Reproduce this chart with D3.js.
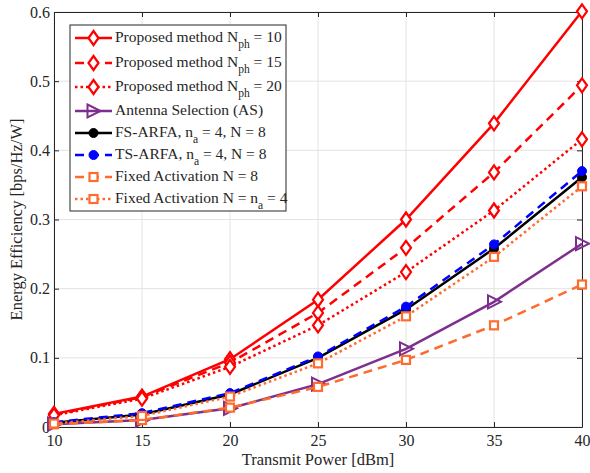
<!DOCTYPE html>
<html>
<head>
<meta charset="utf-8">
<script src="https://cdn.jsdelivr.net/npm/d3@7"></script>
<style>
  body { margin: 0; background: #fff; }
  svg text { font-family: "Liberation Serif", "Times New Roman", "DejaVu Serif", serif !important; fill: #262626; }
</style>
</head>
<body>
<div id="chart"></div>
<script>
// data
const powers = [10, 15, 20, 25, 30, 35, 40];
const propNph10 = [0.019, 0.044, 0.098, 0.184, 0.300, 0.439, 0.601];
const propNph15 = [0.018, 0.043, 0.093, 0.165, 0.259, 0.368, 0.494];
const propNph20 = [0.017, 0.041, 0.087, 0.147, 0.224, 0.313, 0.416];
const antSel    = [0.004, 0.010, 0.027, 0.062, 0.113, 0.181, 0.265];
const fsArfa    = [0.006, 0.018, 0.047, 0.100, 0.170, 0.258, 0.361];
const tsArfa    = [0.007, 0.020, 0.049, 0.102, 0.174, 0.264, 0.370];
const fixedN8   = [0.004, 0.010, 0.028, 0.058, 0.097, 0.147, 0.206];
const fixedN4   = [0.005, 0.016, 0.044, 0.092, 0.160, 0.246, 0.348];
const xTicks = [10, 15, 20, 25, 30, 35, 40];
const yTicks = [0, 0.1, 0.2, 0.3, 0.4, 0.5, 0.6];

const orange = "#ff6b2e";
const series = [
  { vals: propNph10, color: "#ff0000", dash: null, marker: "diamond", label: ["Proposed method N", "ph", " = 10"] },
  { vals: propNph15, color: "#ff0000", dash: "9,6", marker: "diamond", label: ["Proposed method N", "ph", " = 15"] },
  { vals: propNph20, color: "#ff0000", dash: "2.5,3", marker: "diamond", label: ["Proposed method N", "ph", " = 20"] },
  { vals: antSel, color: "#7e2f8e", dash: null, marker: "triangle", label: ["Antenna Selection (AS)"] },
  { vals: fsArfa, color: "#000000", dash: null, marker: "circle", label: ["FS-ARFA, n", "a", " = 4, N = 8"] },
  { vals: tsArfa, color: "#0000ff", dash: "9,6", marker: "circle", label: ["TS-ARFA, n", "a", " = 4, N = 8"] },
  { vals: fixedN8, color: orange, dash: "9,6", marker: "square", label: ["Fixed Activation N = 8"] },
  { vals: fixedN4, color: orange, dash: "2.5,3", marker: "square", label: ["Fixed Activation N = n", "a", " = 4"] }
];

const W = 590, H = 473;
const m = { left: 54, right: 8, top: 12, bottom: 46 };
const serif = "'Liberation Serif', 'Times New Roman', serif";

const svg = d3.select("#chart").append("svg")
  .attr("width", W)
  .attr("height", H);

const x = d3.scaleLinear().domain([10, 40]).range([m.left, W - m.right]);
const y = d3.scaleLinear().domain([0, 0.6]).range([H - m.bottom, m.top]);

// grid
svg.append("g").selectAll("line").data(xTicks).enter().append("line")
  .attr("x1", d => x(d)).attr("x2", d => x(d))
  .attr("y1", y(0)).attr("y2", y(0.6))
  .attr("stroke", "#e3e3e3").attr("stroke-width", 1);
svg.append("g").selectAll("line").data(yTicks).enter().append("line")
  .attr("x1", x(10)).attr("x2", x(40))
  .attr("y1", d => y(d)).attr("y2", d => y(d))
  .attr("stroke", "#e3e3e3").attr("stroke-width", 1);

// axes, MATLAB style box with inward ticks
const xAxis = svg.append("g")
  .attr("transform", `translate(0,${y(0)})`)
  .call(d3.axisBottom(x).tickValues(xTicks).tickSizeInner(-5).tickSizeOuter(0).tickPadding(14).tickFormat(d3.format("d")));
const yAxis = svg.append("g")
  .attr("transform", `translate(${x(10)},0)`)
  .call(d3.axisLeft(y).tickValues(yTicks).tickSizeInner(-5).tickSizeOuter(0).tickPadding(4).tickFormat(d => d === 0 ? "0" : d3.format(".1f")(d)));
const xTop = svg.append("g")
  .attr("transform", `translate(0,${y(0.6)})`)
  .call(d3.axisTop(x).tickValues(xTicks).tickSizeInner(-5).tickSizeOuter(0).tickFormat(""));
const yRight = svg.append("g")
  .attr("transform", `translate(${x(40)},0)`)
  .call(d3.axisRight(y).tickValues(yTicks).tickSizeInner(-5).tickSizeOuter(0).tickFormat(""));

[xAxis, yAxis, xTop, yRight].forEach(a => {
  a.attr("font-family", serif);
  a.selectAll("path").attr("stroke", "#262626").attr("stroke-width", 1);
  a.selectAll("line").attr("stroke", "#262626");
  a.selectAll("text").attr("font-size", 16).style("font-family", serif).attr("fill", "#262626");
});
xAxis.selectAll("text").attr("dy", "0.3em");

svg.append("text")
  .attr("x", (x(10) + x(40)) / 2).attr("y", H - 8)
  .attr("text-anchor", "middle").attr("font-size", 16.5).style("font-family", serif)
  .text("Transmit Power [dBm]");
svg.append("text")
  .attr("transform", `translate(22,${(y(0) + y(0.6)) / 2}) rotate(-90)`)
  .attr("text-anchor", "middle").attr("font-size", 16.5).style("font-family", serif)
  .text("Energy Efficiency [bps/Hz/W]");

// markers
function drawMarker(g, s, cx, cy) {
  if (s.marker === "diamond") {
    g.append("path").attr("d", `M${cx},${cy - 7}L${cx + 5},${cy}L${cx},${cy + 7}L${cx - 5},${cy}Z`)
      .attr("fill", "#fff").attr("stroke", s.color).attr("stroke-width", 2.2);
  } else if (s.marker === "triangle") {
    g.append("path").attr("d", `M${cx - 6},${cy - 6.5}L${cx + 7},${cy}L${cx - 6},${cy + 6.5}Z`)
      .attr("fill", "none").attr("stroke", s.color).attr("stroke-width", 2);
  } else if (s.marker === "circle") {
    g.append("circle").attr("cx", cx).attr("cy", cy).attr("r", 4.5).attr("fill", s.color).attr("stroke", s.color);
  } else {
    g.append("rect").attr("x", cx - 4).attr("y", cy - 4).attr("width", 8).attr("height", 8)
      .attr("fill", "#fff").attr("stroke", s.color).attr("stroke-width", 2.2);
  }
}

const line = d3.line().x((d, i) => x(powers[i])).y(d => y(d));

const plot = svg.append("g");
series.forEach(s => {
  plot.append("path")
    .datum(s.vals)
    .attr("d", line)
    .attr("fill", "none")
    .attr("stroke", s.color)
    .attr("stroke-width", 2.5)
    .attr("stroke-dasharray", s.dash);
  const mg = plot.append("g");
  s.vals.forEach((v, i) => drawMarker(mg, s, x(powers[i]), y(v)));
});

// legend
const lg = svg.append("g");
lg.append("rect").attr("x", 70).attr("y", 25).attr("width", 216).attr("height", 186)
  .attr("fill", "#fff").attr("stroke", "#262626").attr("stroke-width", 1);
const rowY = [38, 63, 87, 111, 133, 155, 177, 199];
series.forEach((s, i) => {
  const ry = rowY[i];
  lg.append("line").attr("x1", 75).attr("x2", 112).attr("y1", ry).attr("y2", ry)
    .attr("stroke", s.color).attr("stroke-width", 2.5).attr("stroke-dasharray", s.dash);
  drawMarker(lg, s, 93.5, ry);
  const t = lg.append("text").attr("x", 115).attr("y", ry + 4).attr("font-size", 15.5).style("font-family", serif).attr("fill", "#111");
  t.append("tspan").text(s.label[0]);
  if (s.label.length > 1) {
    t.append("tspan").attr("dy", 6).attr("font-size", 11.5).text(s.label[1]);
    t.append("tspan").attr("dy", -6).text(s.label[2]);
  }
});
</script>
</body>
</html>
